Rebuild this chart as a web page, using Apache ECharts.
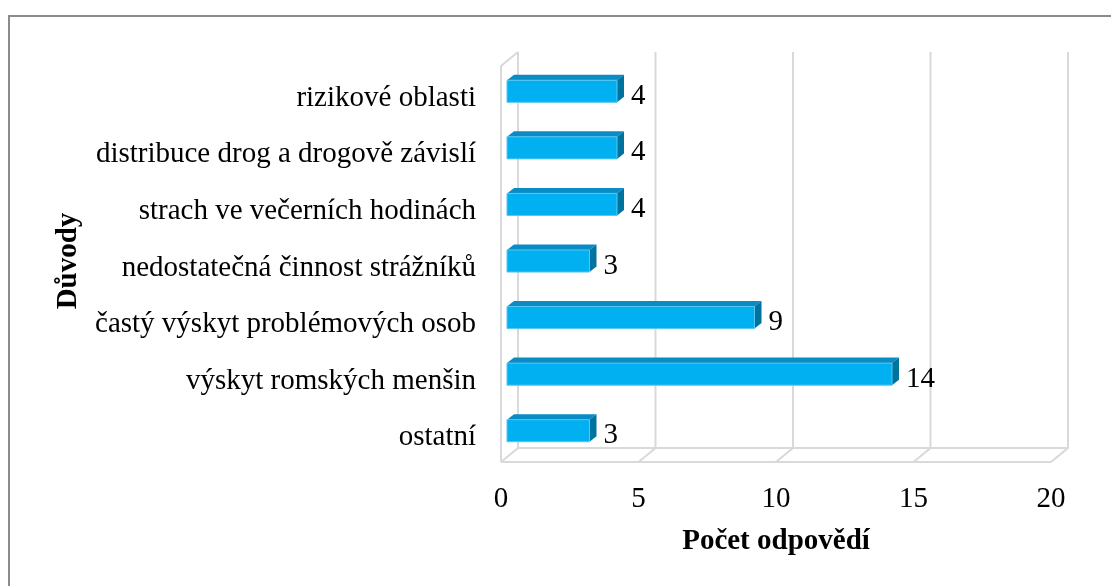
<!DOCTYPE html>
<html>
<head>
<meta charset="utf-8">
<script src="https://cdn.jsdelivr.net/npm/echarts@6/dist/echarts.min.js"></script>
<style>
html,body{margin:0;padding:0;background:#fff;}
#chart{width:1111px;height:586px;}
</style>
</head>
<body>
<div id="chart"></div>
<script>
const categories = ['rizikové oblasti','distribuce drog a drogově závislí','strach ve večerních hodinách','nedostatečná činnost strážníků','častý výskyt problémových osob','výskyt romských menšin','ostatní'];
const values = [4,4,4,3,9,14,3];
const xTicks = [0,5,10,15,20];
const xTitle = 'Počet odpovědí';
const yTitle = 'Důvody';

const FONT = '"Liberation Serif", "Times New Roman", serif';
const DEPTH = [17, -14];
const FRAME = '#D9D9D9';

const chart = echarts.init(document.getElementById('chart'));

function frameItem(params, api) {
  const cs = params.coordSys;
  const t = api.value(0);
  const x = api.coord([t, 0])[0];
  const bottom = cs.y + cs.height, top = cs.y;
  const st = {stroke: FRAME, lineWidth: 2, fill: null};
  const children = [
    {type: 'polyline', shape: {points: [[x, bottom], [x + DEPTH[0], bottom + DEPTH[1]], [x + DEPTH[0], top + DEPTH[1]]]}, style: st}
  ];
  if (params.dataIndex === 0) {
    const xEnd = cs.x + cs.width;
    children.push({type: 'line', shape: {x1: x, y1: bottom, x2: xEnd, y2: bottom}, style: st});
    children.push({type: 'line', shape: {x1: x + DEPTH[0], y1: bottom + DEPTH[1], x2: xEnd + DEPTH[0], y2: bottom + DEPTH[1]}, style: st});
    children.push({type: 'polyline', shape: {points: [[x, bottom], [x, top], [x + DEPTH[0], top + DEPTH[1]]]}, style: st});
  }
  return {type: 'group', children};
}

function barItem(params, api) {
  const v = api.value(0), i = api.value(1);
  const p0 = api.coord([0, i]);
  const p1 = api.coord([v, i]);
  const band = api.size([0, 1])[1];
  const h = band * 0.39;
  const off = [6, -3];
  const d = [7, -5.5];
  const xL = p0[0] + off[0], xR = p1[0] + off[0];
  const yT = p0[1] + off[1] - h / 2, yB = yT + h;
  return {
    type: 'group',
    children: [
      {type: 'polygon', shape: {points: [[xL, yT], [xR, yT], [xR + d[0], yT + d[1]], [xL + d[0], yT + d[1]]]}, style: {fill: '#0A8BC4'}},
      {type: 'polygon', shape: {points: [[xR, yT], [xR + d[0], yT + d[1]], [xR + d[0], yB + d[1]], [xR, yB]]}, style: {fill: '#00729E'}},
      {type: 'rect', shape: {x: xL, y: yT, width: xR - xL, height: h}, style: {fill: '#00B0F0', stroke: '#58C6F2', lineWidth: 1}},
      {type: 'text', style: {text: String(v), x: xR + d[0] + 7, y: p0[1] + 2, align: 'left', verticalAlign: 'middle', fontSize: 29, fontFamily: FONT, fill: '#000'}}
    ]
  };
}

chart.setOption({
  backgroundColor: '#ffffff',
  animation: false,
  graphic: [
    {type: 'rect', shape: {x: 9, y: 16, width: 1300, height: 800}, style: {fill: null, stroke: '#8C8C8C', lineWidth: 2}, z: -10}
  ],
  grid: {left: 501, right: 60, top: 66, bottom: 124, containLabel: false},
  xAxis: {
    type: 'value', min: xTicks[0], max: xTicks[xTicks.length - 1], interval: xTicks[1] - xTicks[0],
    axisLine: {show: false}, axisTick: {show: false}, splitLine: {show: false},
    axisLabel: {margin: 23, fontSize: 29, fontFamily: FONT, color: '#000'},
    name: xTitle, nameLocation: 'middle', nameGap: 65,
    nameTextStyle: {fontSize: 29, fontWeight: 'bold', fontFamily: FONT, color: '#000'}
  },
  yAxis: {
    type: 'category', data: categories, inverse: true,
    axisLine: {show: false}, axisTick: {show: false}, splitLine: {show: false},
    axisLabel: {margin: 25, fontSize: 29, fontFamily: FONT, color: '#000', verticalAlign: 'top', lineHeight: 8},
    name: yTitle, nameLocation: 'middle', nameGap: 418, nameRotate: 90,
    nameTextStyle: {fontSize: 29, fontWeight: 'bold', fontFamily: FONT, color: '#000', padding: [0, 0, 0, 6]}
  },
  series: [
    {type: 'custom', renderItem: frameItem, data: xTicks.map(t => [t]), encode: {x: 0}, clip: false, silent: true, z: 1},
    {type: 'custom', renderItem: barItem, data: values.map((v, i) => [v, i]), encode: {x: 0, y: 1}, clip: false, z: 2}
  ]
});
</script>
</body>
</html>
